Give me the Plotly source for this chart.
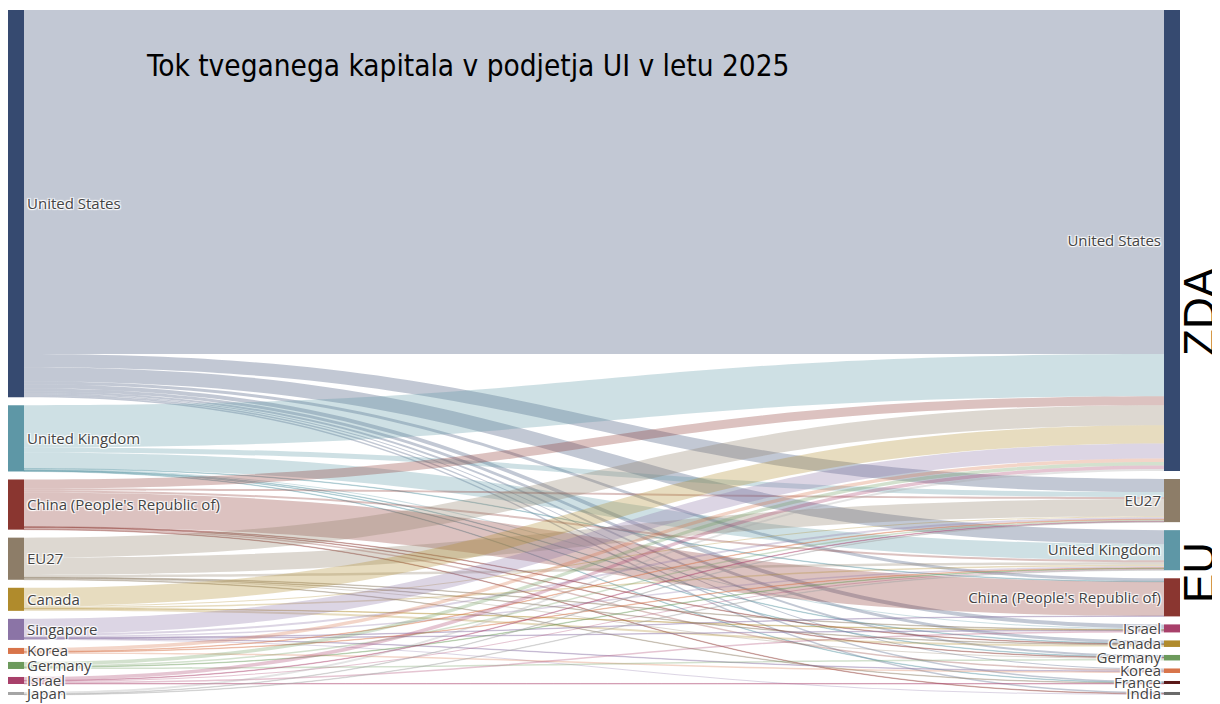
import plotly.graph_objects as go

# ---- data ----
left_nodes = ["United States", "United Kingdom", "China (People's Republic of)", "EU27",
              "Canada", "Singapore", "Korea", "Germany", "Israel", "Japan"]
right_nodes = ["United States", "EU27", "United Kingdom", "China (People's Republic of)",
               "Israel", "Canada", "Germany", "Korea", "France", "India"]

left_colors = ["#364a70", "#5e97a6", "#8a3630", "#8d7d68", "#b08b2c", "#8b74a6",
               "#d8744a", "#6c9a5c", "#a8406a", "#a5a5a5"]
right_colors = ["#364a70", "#8d7d68", "#5e97a6", "#8a3630", "#a8406a", "#b08b2c",
                "#6c9a5c", "#d8744a", "#5a1818", "#6a6a6a"]

US, UK, CN, EU = "United States", "United Kingdom", "China (People's Republic of)", "EU27"
# flows: (investor location, AI company location, value USD bn)
flows = [
    (US, US, 343), (US, EU, 13), (US, UK, 14), (US, CN, 3), (US, "Israel", 4),
    (US, "Canada", 3), (US, "Germany", 2), (US, "Korea", 1), (US, "France", 1.5), (US, "India", 1.5),
    (UK, US, 42), (UK, EU, 5), (UK, UK, 16), (UK, CN, 0.5), (UK, "Israel", 1),
    (UK, "Canada", 0.5), (UK, "Germany", 0.5), (UK, "France", 0.5),
    (CN, US, 9), (CN, EU, 2), (CN, UK, 2), (CN, CN, 34), (CN, "Korea", 1.5),
    (CN, "Canada", 0.5), (CN, "India", 0.5), (CN, "Germany", 0.5),
    (EU, US, 20), (EU, EU, 17), (EU, UK, 2.5), (EU, "Germany", 1), (EU, "France", 0.5),
    (EU, "Israel", 0.5), (EU, "Canada", 0.5),
    ("Canada", US, 18), ("Canada", "Canada", 2), ("Canada", UK, 1.5), ("Canada", EU, 1), ("Canada", "Israel", 0.5),
    ("Singapore", US, 15), ("Singapore", EU, 2), ("Singapore", UK, 1.5), ("Singapore", CN, 0.5),
    ("Singapore", "India", 1), ("Singapore", "Korea", 0.5), ("Singapore", "Israel", 0.5),
    ("Korea", US, 3.5), ("Korea", "Korea", 1.5), ("Korea", EU, 0.5), ("Korea", UK, 0.5),
    ("Germany", US, 3.5), ("Germany", "Germany", 1.5), ("Germany", EU, 1.5), ("Germany", UK, 0.5),
    ("Israel", US, 3.5), ("Israel", "Israel", 1.5), ("Israel", UK, 1), ("Israel", EU, 0.5), ("Israel", "France", 0.5),
    ("Japan", US, 2), ("Japan", EU, 0.5), ("Japan", UK, 0.5),
]

title_text = "Tok tveganega kapitala v podjetja UI v letu 2025"
group_labels = ["ZDA", "EU"]


def rgba(hex_color, a):
    h = hex_color.lstrip("#")
    r, g, b = int(h[0:2], 16), int(h[2:4], 16), int(h[4:6], 16)
    return f"rgba({r},{g},{b},{a})"


# ---- build sankey ----
W, H = 1220, 704
# plotly offsets the sankey by 8px inside its domain, so the domain is shifted to compensate
dom_x = [0 / W, 1172 / W]
dom_y = [1 - 687 / H, 1 - 2 / H]
plot_w = (dom_x[1] - dom_x[0]) * W
plot_h = (dom_y[1] - dom_y[0]) * H
pad = 8
thick = 16

nL = len(left_nodes)
src = [left_nodes.index(s) for s, t, v in flows]
tgt = [nL + right_nodes.index(t) for s, t, v in flows]
val = [v for s, t, v in flows]
lcol = [rgba(left_colors[left_nodes.index(s)], 0.3) for s, t, v in flows]

left_tot = [sum(v for s, t, v in flows if s == n) for n in left_nodes]
right_tot = [sum(v for s, t, v in flows if t == n) for n in right_nodes]
ky = min((plot_h - (len(left_tot) - 1) * pad) / sum(left_tot),
         (plot_h - (len(right_tot) - 1) * pad) / sum(right_tot))


def centers(tots):
    out, y = [], 0
    for v in tots:
        h = v * ky
        out.append((y + h / 2) / plot_h)
        y += h + pad
    return out


node_y = centers(left_tot) + centers(right_tot)
node_x = [thick / 2 / plot_w] * nL + [1 - thick / 2 / plot_w] * len(right_nodes)

fig = go.Figure(go.Sankey(
    arrangement="fixed",
    domain=dict(x=dom_x, y=dom_y),
    node=dict(label=left_nodes + right_nodes, color=left_colors + right_colors,
              pad=pad, thickness=thick, line=dict(width=0),
              x=node_x, y=node_y),
    link=dict(source=src, target=tgt, value=val, color=lcol),
    textfont=dict(family="Open Sans, Noto Sans, sans-serif", size=15, color="#444"),
))

fig.add_annotation(text=title_text, xref="paper", yref="paper", x=459 / W, y=1 - 58 / H,
                   showarrow=False, xanchor="center", yanchor="middle",
                   font=dict(family="DejaVu Sans Condensed, DejaVu Sans, sans-serif",
                             size=29.5, color="#000"))
fig.add_annotation(text=group_labels[0], xref="paper", yref="paper", x=1191 / W, y=1 - 304 / H,
                   showarrow=False, textangle=-90, xanchor="center", yanchor="middle",
                   font=dict(family="Liberation Sans, DejaVu Sans, sans-serif", size=44, color="#000"))
fig.add_annotation(text=group_labels[1], xref="paper", yref="paper", x=1191 / W, y=1 - 565 / H,
                   showarrow=False, textangle=-90, xanchor="center", yanchor="middle",
                   font=dict(family="Liberation Sans, DejaVu Sans, sans-serif", size=44, color="#000"))

fig.update_layout(width=W, height=H, margin=dict(l=0, r=0, t=0, b=0),
                  paper_bgcolor="white", plot_bgcolor="white")
fig.write_html("out.html")
